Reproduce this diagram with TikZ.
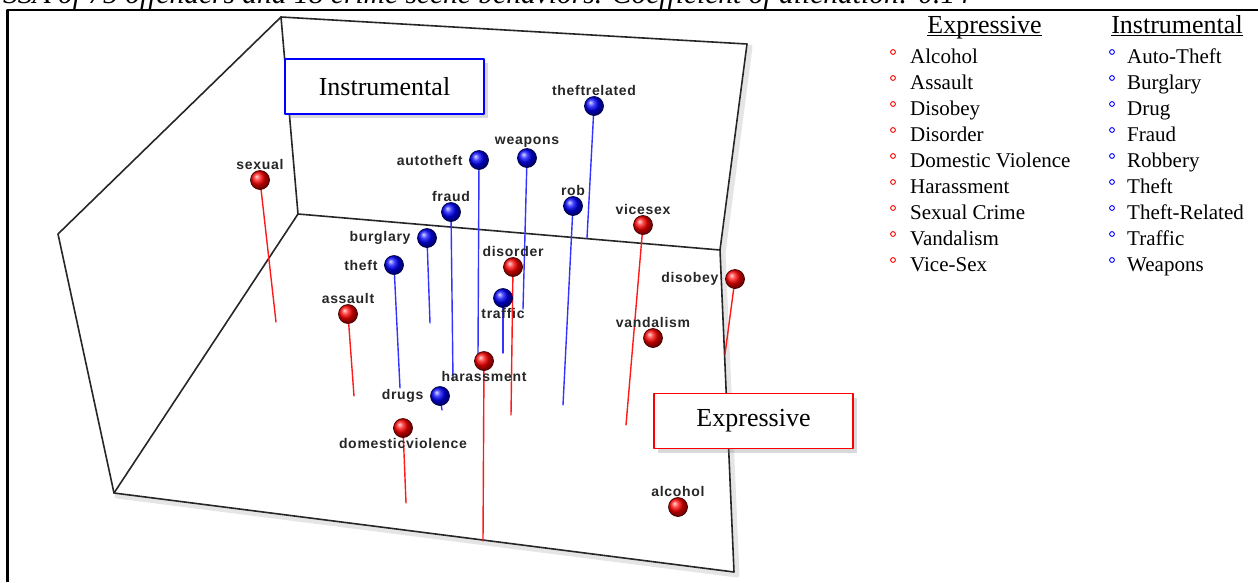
\documentclass[tikz,border=0pt]{standalone}
\usepackage{fontspec}
\setmainfont{Liberation Serif}
\newfontfamily\tagfont[LetterSpace=5]{Liberation Sans Bold}
\usetikzlibrary{shadows}

\begin{document}
\begin{tikzpicture}
		[x=1pt,y=-1pt,line cap=round,line join=round,
		%Styles
		wall/.style={line width=1.6pt,black!85},
		wall shadow/.style={line width=5pt,black,opacity=0.10},
		tag/.style={font=\tagfont\fontsize{14}{16}\selectfont,text=black!85,inner sep=0.5pt},
		redball/.style={circle,minimum size=19pt,inner sep=0pt,shading=ball,ball color=red,draw=red!25!black,line width=0.7pt,label distance=2pt},
		blueball/.style={circle,minimum size=19pt,inner sep=0pt,shading=ball,ball color=blue,draw=blue!25!black,line width=0.7pt,label distance=2pt},
		redpin/.style={pinred,line width=1.4pt},
		bluepin/.style={pinblue,line width=1.4pt},
		key/.style={anchor=base west,inner sep=0pt,font=\fontsize{21}{24}\selectfont},
		keyhead/.style={anchor=base,inner sep=0pt,font=\fontsize{26}{30}\selectfont},
		underline/.style={line width=1.2pt,line cap=butt},
		group box/.style={fill=white,line width=1.6pt,minimum width=199pt,minimum height=55pt,font=\fontsize{26}{30}\selectfont,drop shadow={opacity=0.3,shadow xshift=4pt,shadow yshift=-4pt}}
		]
		
		%Colors
		\colorlet{pinred}{red!90!white}
		\colorlet{pinblue}{blue!80!white}
		
		\useasboundingbox (0,0) rectangle (1258,582);
		
		%Caption and frame
		\node[anchor=base west,inner sep=0pt,font=\itshape\fontsize{29.5}{33}\selectfont] (caption) at (3,3) {SSA of 75 offenders and 18 crime scene behaviors. Coefficient of alienation: 0.14};
		\draw[line width=2.5pt,line cap=butt] (7.5,582) -- (7.5,10) -- (1258,10);
		
		%The box
		\coordinate (back top left) at (281,17);
		\coordinate (back top right) at (747,44);
		\coordinate (back bottom left) at (298,214);
		\coordinate (back bottom right) at (720,250);
		\coordinate (left top) at (58,234);
		\coordinate (front left) at (114,493);
		\coordinate (front right) at (734,572);
		\draw[wall shadow,transform canvas={shift={(3pt,-3pt)}}] (front left) -- (front right) -- (back bottom right) -- (back top right);
		\draw[wall] (front left) -- (left top) -- (back top left) -- (back top right) -- (back bottom right) -- (front right) -- cycle;
		\draw[wall] (back top left) -- (back bottom left) -- (back bottom right);
		\draw[wall] (back bottom left) -- (front left);
		
		%Ball positions and pin ends
		\coordinate (sexual) at (260,180);            \coordinate (sexual pin) at (276,322);
		\coordinate (assault) at (348,314);           \coordinate (assault pin) at (354,396);
		\coordinate (domesticviolence) at (403,428);  \coordinate (domesticviolence pin) at (406,503);
		\coordinate (harassment) at (484,361);        \coordinate (harassment pin) at (483,541);
		\coordinate (disorder) at (513,267);          \coordinate (disorder pin) at (511,415);
		\coordinate (vicesex) at (643,225);           \coordinate (vicesex pin) at (626,425);
		\coordinate (vandalism) at (653,338);
		\coordinate (disobey) at (735,279);           \coordinate (disobey pin) at (725,354);
		\coordinate (alcohol) at (678,507);
		\coordinate (theftrelated) at (594,106);      \coordinate (theftrelated pin) at (587,238);
		\coordinate (weapons) at (527,158);           \coordinate (weapons pin) at (523,309);
		\coordinate (autotheft) at (479,160);         \coordinate (autotheft pin) at (478,355);
		\coordinate (fraud) at (451,212);             \coordinate (fraud pin) at (453,380);
		\coordinate (burglary) at (427,238);          \coordinate (burglary pin) at (430,323);
		\coordinate (theft) at (394,265);             \coordinate (theft pin) at (400,388);
		\coordinate (rob) at (573,206);               \coordinate (rob pin) at (563,405);
		\coordinate (traffic) at (503,298);           \coordinate (traffic pin) at (503,353);
		\coordinate (drugs) at (440,396);             \coordinate (drugs pin) at (442,410);
		
		%Pins
		\draw[bluepin] (theftrelated) -- (theftrelated pin);
		\draw[bluepin] (weapons) -- (weapons pin);
		\draw[bluepin] (autotheft) -- (autotheft pin);
		\draw[bluepin] (fraud) -- (fraud pin);
		\draw[bluepin] (burglary) -- (burglary pin);
		\draw[bluepin] (theft) -- (theft pin);
		\draw[bluepin] (rob) -- (rob pin);
		\draw[bluepin] (traffic) -- (traffic pin);
		\draw[bluepin] (drugs) -- (drugs pin);
		\draw[redpin] (sexual) -- (sexual pin);
		\draw[redpin] (assault) -- (assault pin);
		\draw[redpin] (domesticviolence) -- (domesticviolence pin);
		\draw[redpin] (harassment) -- (harassment pin);
		\draw[redpin] (disorder) -- (disorder pin);
		\draw[redpin] (vicesex) -- (vicesex pin);
		\draw[redpin] (disobey) -- (disobey pin);
		
		%Balls
		\node[blueball,label={[tag]above:theftrelated}] (theftrelated ball) at (theftrelated) {};
		\node[blueball,label={[tag]above:weapons}] (weapons ball) at (weapons) {};
		\node[blueball,label={[tag,label distance=6pt]left:autotheft}] (autotheft ball) at (autotheft) {};
		\node[blueball,label={[tag]above:fraud}] (fraud ball) at (fraud) {};
		\node[blueball,label={[tag,label distance=6pt]left:burglary}] (burglary ball) at (burglary) {};
		\node[blueball,label={[tag,label distance=6pt]left:theft}] (theft ball) at (theft) {};
		\node[blueball,label={[tag]above:rob}] (rob ball) at (rob) {};
		\node[blueball,label={[tag]below:traffic}] (traffic ball) at (traffic) {};
		\node[blueball,label={[tag,label distance=6pt]left:drugs}] (drugs ball) at (drugs) {};
		\node[redball,label={[tag]above:sexual}] (sexual ball) at (sexual) {};
		\node[redball,label={[tag]above:assault}] (assault ball) at (assault) {};
		\node[redball,label={[tag]below:domesticviolence}] (domesticviolence ball) at (domesticviolence) {};
		\node[redball,label={[tag]below:harassment}] (harassment ball) at (harassment) {};
		\node[redball,label={[tag]above:disorder}] (disorder ball) at (disorder) {};
		\node[redball,label={[tag]above:vicesex}] (vicesex ball) at (vicesex) {};
		\node[redball,label={[tag]above:vandalism}] (vandalism ball) at (vandalism) {};
		\node[redball,label={[tag,label distance=6pt]left:disobey}] (disobey ball) at (disobey) {};
		\node[redball,label={[tag]above:alcohol}] (alcohol ball) at (alcohol) {};
		
		%Group boxes
		\node[group box,draw=blue] (instrumental box) at (384.5,86.5) {Instrumental};
		\node[group box,draw=red] (expressive box) at (753.5,421) {Expressive};
		
		%Key
		\node[keyhead] (expressive head) at (984.5,33) {Expressive};
		\node[keyhead] (instrumental head) at (1177,33) {Instrumental};
		\draw[underline] ([yshift=-2.5pt]expressive head.base west) -- ([yshift=-2.5pt]expressive head.base east);
		\draw[underline] ([yshift=-2.5pt]instrumental head.base west) -- ([yshift=-2.5pt]instrumental head.base east);
		
		\node[key] (alcohol key) at (910,63) {Alcohol};
		\node[key] (assault key) at (910,89) {Assault};
		\node[key] (disobey key) at (910,115) {Disobey};
		\node[key] (disorder key) at (910,141) {Disorder};
		\node[key] (domestic key) at (910,167) {Domestic Violence};
		\node[key] (harassment key) at (910,193) {Harassment};
		\node[key] (sexual key) at (910,219) {Sexual Crime};
		\node[key] (vandalism key) at (910,245) {Vandalism};
		\node[key] (vicesex key) at (910,271) {Vice-Sex};
		
		\node[key] (autotheft key) at (1127,63) {Auto-Theft};
		\node[key] (burglary key) at (1127,89) {Burglary};
		\node[key] (drug key) at (1127,115) {Drug};
		\node[key] (fraud key) at (1127,141) {Fraud};
		\node[key] (robbery key) at (1127,167) {Robbery};
		\node[key] (theft key) at (1127,193) {Theft};
		\node[key] (theftrelated key) at (1127,219) {Theft-Related};
		\node[key] (traffic key) at (1127,245) {Traffic};
		\node[key] (weapons key) at (1127,271) {Weapons};
		
		\draw[red,line width=0.9pt] (893,52) circle (2.4) (893,78) circle (2.4) (893,104) circle (2.4) (893,130) circle (2.4) (893,156) circle (2.4) (893,182) circle (2.4) (893,208) circle (2.4) (893,234) circle (2.4) (893,260) circle (2.4);
		\draw[blue,line width=0.9pt] (1112,52) circle (2.4) (1112,78) circle (2.4) (1112,104) circle (2.4) (1112,130) circle (2.4) (1112,156) circle (2.4) (1112,182) circle (2.4) (1112,208) circle (2.4) (1112,234) circle (2.4) (1112,260) circle (2.4);
	\end{tikzpicture}
\end{document}
